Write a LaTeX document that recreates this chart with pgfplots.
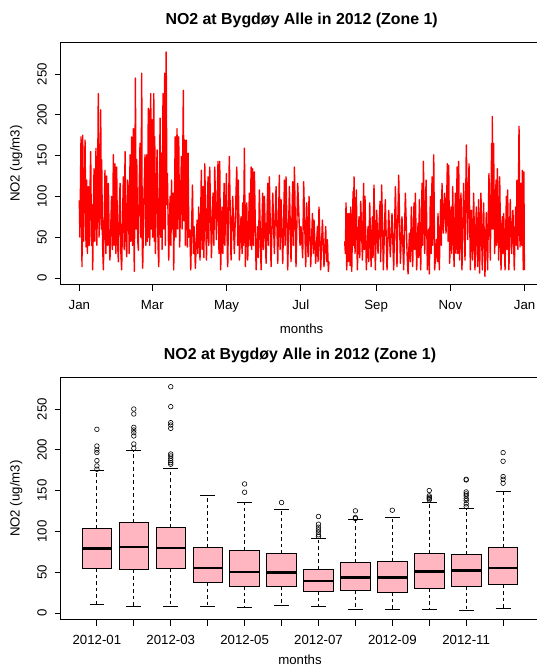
\documentclass[border=0pt]{standalone}
\usepackage{pgfplots}
\pgfplotsset{compat=1.18}
\usepgfplotslibrary{statistics}
\usepackage{fontspec}
\setmainfont{Liberation Sans}
\definecolor{boxpink}{HTML}{FFB6C1}
\newcommand{\axfont}{\fontsize{13.25}{15}\selectfont}
\newcommand{\ttlfont}{\fontsize{15.9}{18}\selectfont\bfseries}
\pgfplotsset{
  rstyle/.style={
    scale only axis,
    anchor=south west,
    height=242pt,
    ymin=-8.2, ymax=288.4,
    ytick={0,50,100,150,200,250},
    tick pos=left,
    tick align=outside,
    major tick length=6pt,
    every tick/.style={black, line width=0.8pt},
    axis line style={black, line width=0.8pt},
    /pgf/number format/assume math mode=true,
    tick label style={font=\axfont},
    yticklabel style={rotate=90, anchor=base},
    xticklabel style={anchor=base},
    xticklabel shift=18.7pt,
    yticklabel shift=8pt,
    label style={font=\axfont},
    title style={font=\ttlfont, at={(axis description cs:0.5,1)}, anchor=base, yshift=12.2pt},
    xlabel={months},
    ylabel={NO2 (ug/m3)},
    title={NO2 at Bygd\o y Alle in 2012 (Zone 1)},
  },
  boxplot/draw/lower whisker/.code={%
    \draw[black, line width=0.8pt, dash pattern=on 3.5pt off 3pt]
      (boxplot box cs:\pgfplotsboxplotvalue{lower quartile},0.5) --
      (boxplot box cs:\pgfplotsboxplotvalue{lower whisker},0.5);
    \draw[black, line width=0.8pt, solid]
      (boxplot box cs:\pgfplotsboxplotvalue{lower whisker},0.25) --
      (boxplot box cs:\pgfplotsboxplotvalue{lower whisker},0.75);
  },
  boxplot/draw/upper whisker/.code={%
    \draw[black, line width=0.8pt, dash pattern=on 3.5pt off 3pt]
      (boxplot box cs:\pgfplotsboxplotvalue{upper quartile},0.5) --
      (boxplot box cs:\pgfplotsboxplotvalue{upper whisker},0.5);
    \draw[black, line width=0.8pt, solid]
      (boxplot box cs:\pgfplotsboxplotvalue{upper whisker},0.25) --
      (boxplot box cs:\pgfplotsboxplotvalue{upper whisker},0.75);
  },
  boxplot/every box/.style={fill=boxpink, draw=black, line width=0.8pt},
  boxplot/every median/.style={draw=black, line width=2.6pt},
  bp/.style={black, solid, mark=o, mark size=2.3pt, mark options={black, solid, line width=0.6pt}, boxplot/draw direction=y, boxplot/box extend=0.8},
}
\begin{document}
\begin{tikzpicture}
\path[use as bounding box] (0,0) rectangle (537pt,668pt);
% ---------------- top panel: hourly series ----------------
\begin{axis}[rstyle,
  at={(60.7pt,383.3pt)},
  width=481.8pt,
  xmin=-15.3, xmax=380.7,
  xtick={0,60,121,182,244,305,366},
  xticklabels={Jan,Mar,May,Jul,Sep,Nov,Jan},
  xlabel style={at={(axis description cs:0.5,0)}, anchor=base, yshift=-49pt},
  ylabel style={at={(axis description cs:-0.0855,0.5)}, anchor=base},
]
\addplot[red, line width=1.4pt, line join=round] coordinates {
(0,95)(0.5,50)(1.4,173)(2.2,14)(2.8,175)(3.5,45)(4.3,120)(4.7,169)(5.5,38)(6.1,120)(6.7,30)(7.4,112)(8.1,40)(8.8,108)(9.35,155)(10.0,40)(10.5,90)(11.0,10)(11.6,80)(12.1,134)(12.8,45)(13.7,159)(14.4,40)(15.0,110)(15.6,226)(16.2,50)(16.9,120)(17.6,206)(18.0,60)(18.4,145)(19.1,40)(19.8,10)(20.4,70)(21.1,132)(21.8,30)(22.5,125)(23.2,40)(23.9,116)(24.5,50)(25.2,22)(25.8,60)(26.5,100)(27.2,35)(28.0,151)(28.6,40)(29.3,140)(30.0,30)(30.7,136)(31.4,45)(32.1,20)(32.8,80)(33.5,116)(34.2,30)(34.8,10)(35.5,70)(36.2,124)(36.9,35)(37.6,155)(38.3,45)(39.0,26)(39.7,120)(40.3,110)(41.0,30)(41.7,151)(42.3,45)(43.0,173)(43.7,40)(44.4,183)(44.8,60)(45.2,8)(45.7,110)(46.1,245)(46.7,60)(47.2,145)(47.9,50)(48.5,34)(49.2,110)(49.9,165)(50.6,50)(51.3,251)(51.7,40)(52.1,12)(53.0,90)(54.0,151)(54.7,40)(55.4,151)(56.0,45)(56.7,208)(57.0,50)(57.3,206)(57.9,40)(58.7,226)(59.2,60)(59.8,194)(60.3,50)(61.2,226)(61.7,45)(62.0,173)(62.5,30)(63.2,90)(63.9,157)(64.7,40)(65.3,14)(65.8,100)(66.4,196)(66.9,50)(67.5,153)(68.0,35)(68.8,226)(69.4,60)(70.2,251)(70.7,40)(71.4,277)(72.0,90)(72.4,128)(73.5,22)(74.6,100)(75.3,40)(75.8,120)(76.4,60)(77.1,104)(77.6,10)(78.8,173)(79.4,50)(80.3,183)(80.8,60)(81.7,173)(82.5,38)(83.9,149)(84.5,60)(85.5,230)(86.0,70)(86.6,169)(87.2,40)(88.0,169)(88.8,38)(89.4,153)(90.0,50)(90.8,59)(91.6,10)(93.0,114)(93.8,30)(94.3,63)(95.4,12)(96.8,71)(97.5,30)(98.1,87)(99.2,22)(100.3,132)(101.0,35)(101.7,112)(102.4,25)(103.1,140)(104.5,22)(105.8,124)(106.4,40)(107.2,136)(108.6,25)(109.9,104)(110.6,40)(111.3,136)(112.7,47)(114.0,143)(114.8,30)(115.4,143)(116.2,10)(117.3,87)(118.0,30)(119.0,116)(119.6,40)(120.9,128)(121.7,25)
(122.0,14)(123.3,149)(124.7,22)(126.1,100)(127.4,30)(129.4,136)(130.2,40)(130.7,120)(131.6,22)(132.9,75)(133.8,30)(134.3,92)(134.9,40)(135.7,159)(136.5,14)(137.6,92)(138.4,22)(139.8,104)(140.3,40)(141.2,136)(141.7,35)(142.5,134)(143.1,40)(143.9,130)(145.3,10)(146.6,63)(147.2,25)(148.0,108)(149.4,10)(150.7,104)(151.3,35)(152.1,100)(153.5,18)(154.9,116)(155.4,40)(156.2,124)(157.6,14)(159.0,104)(160.3,30)(161.7,112)(163.1,18)(164.4,126)(165.0,35)(165.8,96)(167.2,18)(168.6,120)(169.1,40)(169.9,124)(171.3,10)(172.7,112)(174.0,20)(175.4,118)(175.9,40)(176.8,136)(178.1,14)(179.5,116)(181.4,40)(182.2,63)(183.6,25)(184.4,118)
(186.1,14)(186.9,92)(188.0,26)(188.8,100)(190.2,14)(191.6,79)(192.4,30)(192.9,71)(194.3,18)(195.7,63)(196.2,20)(197.0,87)(198.4,10)(199.8,71)(201.1,14)(202.5,63)(203.3,20)(203.9,47)(204.7,8)(205.2,20)
};
\addplot[red, line width=1.4pt, line join=round] coordinates {
(218.1,45)(218.7,30)(219.2,92)(219.8,10)(220.6,79)(221.1,20)(221.7,79)(222.5,15)(223.1,87)(223.9,8)(225.0,106)(225.3,40)(225.8,124)(226.6,30)(227.7,108)(228.5,10)(229.9,75)(230.5,25)(231.3,94)(232.7,22)(233.7,116)(234.3,35)(234.8,100)(235.9,10)(237.3,63)(237.9,20)(238.7,92)(239.8,14)(240.9,75)(241.4,25)(242.2,114)(243.3,10)(244.4,83)(245.5,30)(247.2,94)(247.7,20)(248.5,114)(249.9,10)
(251.5,96)(252.9,10)(254.3,83)(255.6,26)(257.0,79)(258.4,10)(259.8,112)(261.1,14)(262.5,126)(263.9,18)(265.2,75)(266.6,10)(268.0,104)(269.4,30)(270.2,5)(271.3,55)(272.1,20)(272.9,87)(274.0,14)(275.1,92)(275.6,35)(276.2,104)(277.3,10)(278.4,67)(278.9,25)(279.5,96)(280.6,10)(281.7,116)(282.2,40)(282.8,143)(283.9,30)(285.0,120)(286.1,10)(287.2,60)(287.7,5)(288.5,100)(289.1,30)(289.9,124)(290.4,40)(291.3,151)(292.1,10)(293.5,47)(294.3,20)(294.8,79)(295.9,10)(297.0,96)(297.6,40)(298.1,116)(299.2,55)(300.3,104)(301.4,55)(302.5,140)(303.1,45)(303.6,138)(304.4,18)(305.5,87)(306.1,30)(306.9,112)(308.0,14)(309.1,104)(309.6,30)(310.5,136)
(311.2,30)(311.8,143)(312.6,22)(313.7,104)(314.5,10)(315.9,116)(317.0,22)(318.1,163)(319.2,47)(320.3,140)(321.4,10)(322.2,83)(323.3,22)(324.1,104)(325.2,10)(326.3,87)(327.4,14)(328.2,96)(329.0,6)(330.1,104)(331.2,10)(332.3,92)(333.4,2)(334.5,80)(335.6,10)(336.7,128)(337.8,22)(338.9,165)(339.2,60)(339.4,198)(340.0,60)(340.5,165)(341.4,30)(342.5,120)(343.0,40)(343.6,134)(344.7,22)(345.5,124)(346.6,10)(347.7,75)(348.2,30)(348.8,79)(349.9,10)(351.0,100)(351.5,35)(352.0,108)(353.1,10)(354.2,96)(355.3,30)(356.4,83)(357.5,10)(358.6,87)(359.2,40)(359.7,120)(360.5,35)(361.4,186)(362.2,38)(363.0,116)(363.6,40)(364.1,132)(364.9,10)(365.4,130)(365.8,10)
};
\end{axis}
% ---------------- bottom panel: monthly boxplots ----------------
\begin{axis}[rstyle,
  at={(60.7pt,48.3pt)},
  width=478.6pt,
  xmin=0.02, xmax=12.98,
  xtick={1,2,3,4,5,6,7,8,9,10,11,12},
  xticklabels={2012-01,,2012-03,,2012-05,,2012-07,,2012-09,,2012-11,},
  xlabel style={at={(axis description cs:0.5,0)}, anchor=base, yshift=-45pt},
  ylabel style={at={(axis description cs:-0.0857,0.5)}, anchor=base},
]
\addplot[bp, boxplot prepared={draw position=1, lower whisker=10.2, lower quartile=55.1, median=78.7, upper quartile=103.2, upper whisker=174.5}]
  table[row sep=\\, y index=0] {y\\ 225.1\\ 204.7\\ 199.8\\ 196.6\\ 186.8\\ 180.3\\ 176.2\\};
\addplot[bp, boxplot prepared={draw position=2, lower whisker=8.2, lower quartile=53.0, median=80.8, upper quartile=110.9, upper whisker=199.0}]
  table[row sep=\\, y index=0] {y\\ 250\\ 243.9\\ 227.6\\ 224.3\\ 221\\ 217\\ 207.2\\ 201.9\\};
\addplot[bp, boxplot prepared={draw position=3, lower whisker=8.2, lower quartile=55.1, median=79.5, upper quartile=104.8, upper whisker=177.4}]
  table[row sep=\\, y index=0] {y\\ 277.3\\ 252.9\\ 233.3\\ 230.4\\ 226.3\\ 194.9\\ 192.5\\ 189.6\\ 186.8\\ 184.3\\ 182.3\\};
\addplot[bp, boxplot prepared={draw position=4, lower whisker=8.2, lower quartile=37.9, median=55.1, upper quartile=80.3, upper whisker=143.6}]
  coordinates {};
\addplot[bp, boxplot prepared={draw position=5, lower whisker=6.5, lower quartile=32.6, median=50.2, upper quartile=76.7, upper whisker=135.0}]
  table[row sep=\\, y index=0] {y\\ 158.2\\ 148\\};
\addplot[bp, boxplot prepared={draw position=6, lower whisker=9.4, lower quartile=32.6, median=49.8, upper quartile=72.6, upper whisker=126.8}]
  table[row sep=\\, y index=0] {y\\ 135.4\\};
\addplot[bp, boxplot prepared={draw position=7, lower whisker=8.2, lower quartile=26.9, median=39.2, upper quartile=53.8, upper whisker=90.9}]
  table[row sep=\\, y index=0] {y\\ 118.3\\ 108.9\\ 105.2\\ 102\\ 99.1\\ 95.8\\ 93.8\\};
\addplot[bp, boxplot prepared={draw position=8, lower whisker=4.9, lower quartile=27.7, median=43.6, upper quartile=62.4, upper whisker=114.2}]
  table[row sep=\\, y index=0] {y\\ 125.2\\ 117\\ 115.8\\};
\addplot[bp, boxplot prepared={draw position=9, lower whisker=4.1, lower quartile=25.7, median=43.6, upper quartile=63.2, upper whisker=117.0}]
  table[row sep=\\, y index=0] {y\\ 126\\};
\addplot[bp, boxplot prepared={draw position=10, lower whisker=4.9, lower quartile=30.2, median=51.0, upper quartile=73.4, upper whisker=135.8}]
  table[row sep=\\, y index=0] {y\\ 150.1\\ 143.6\\ 141.9\\ 140.3\\ 138.7\\};
\addplot[bp, boxplot prepared={draw position=11, lower whisker=3.3, lower quartile=32.6, median=52.2, upper quartile=71.4, upper whisker=127.7}]
  table[row sep=\\, y index=0] {y\\ 163.9\\ 163.1\\ 148.4\\ 146\\ 143.6\\ 140.3\\ 137.8\\ 133.8\\ 130.5\\};
\addplot[bp, boxplot prepared={draw position=12, lower whisker=5.7, lower quartile=34.7, median=55.1, upper quartile=80.8, upper whisker=148.9}]
  table[row sep=\\, y index=0] {y\\ 196.6\\ 186\\ 167.2\\ 163.9\\ 159.1\\};
\end{axis}
\end{tikzpicture}
\end{document}
